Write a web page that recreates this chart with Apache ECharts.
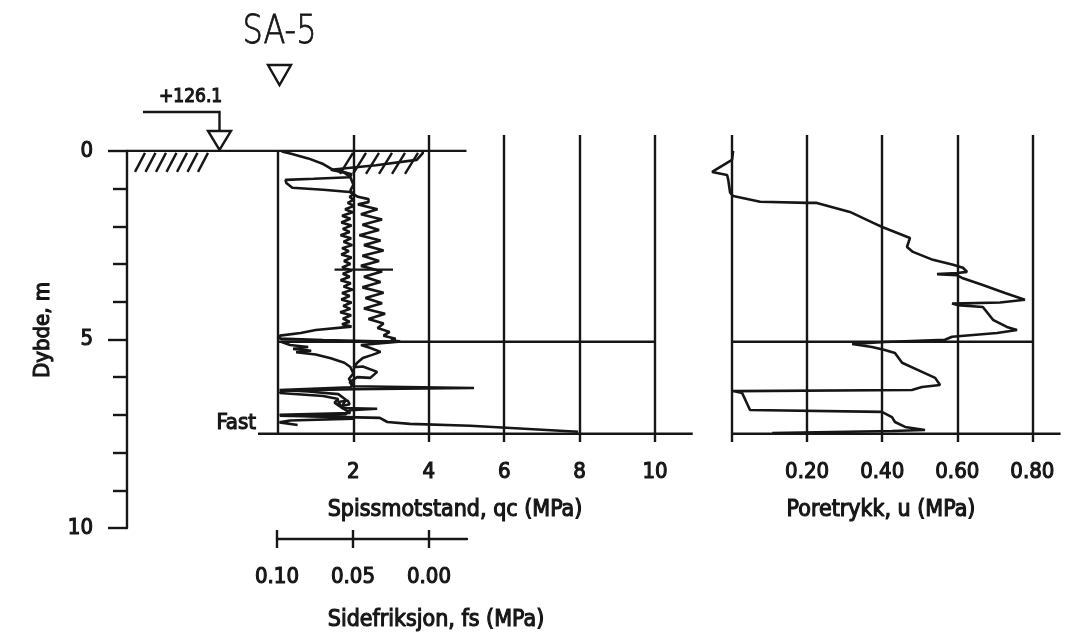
<!DOCTYPE html>
<html><head><meta charset="utf-8">
<script src="https://cdn.jsdelivr.net/npm/echarts@6/dist/echarts.min.js"></script>
<style>html,body{margin:0;padding:0;background:#fff}#c{width:1080px;height:640px}</style>
</head><body><div id="c"></div>
<script>
// ---------- data ----------
const stationName = 'SA-5';
const groundLevel = '+126.1';
const depthLabels = [0, 5, 10];
const qcTicks = [2, 4, 6, 8, 10];
const uTicks = [0.2, 0.4, 0.6, 0.8];
const fsTicks = [0.10, 0.05, 0.00];
const layerDepth = 5.06;   // horizontal line across both panels
const fastDepth = 7.5;     // "Fast" (stop) level
const markDepth = 3.15;    // short mark on qc trace

// cone resistance qc [MPa, depth m]
const qcData = [
 [0.1,0.02],[0.35,0.08],[0.8,0.2],[1.2,0.35],[1.45,0.5],[1.75,0.56],[1.95,0.62],[1.9,0.7],[0.95,0.74],[0.2,0.77],
 [0.22,0.85],[0.38,0.98],[1.2,1.03],[1.9,1.09],[2.0,1.15],[1.9,1.22],[2.0,1.3],
 [1.85,1.38],[2.02,1.46],[1.78,1.55],[1.98,1.63],[1.7,1.72],[1.92,1.8],[1.68,1.9],[1.95,1.98],[1.72,2.07],[1.9,2.15],
 [1.66,2.24],[1.94,2.32],[1.74,2.41],[1.97,2.5],[1.7,2.58],[1.88,2.66],[1.68,2.75],[1.95,2.83],[1.75,2.92],[1.92,3.0],
 [1.7,3.09],[1.96,3.17],[1.72,3.26],[1.9,3.34],[1.66,3.43],[1.93,3.51],[1.74,3.6],[1.98,3.68],[1.7,3.77],[1.9,3.85],
 [1.68,3.94],[1.95,4.02],[1.73,4.11],[1.92,4.19],[1.65,4.28],[1.94,4.36],[1.72,4.45],[1.9,4.53],[1.7,4.6],[1.95,4.66],
 [1.0,4.75],[0.6,4.83],[0.05,4.9],[0.05,4.98],[1.2,5.02],[3.2,5.06],[2.2,5.15],[2.45,5.23],[2.72,5.33],[2.5,5.41],
 [2.25,5.49],[2.1,5.62],[2.0,5.74],[2.25,5.72],[2.63,5.86],[2.45,6.02],[2.1,6.0],[1.9,6.13],[1.98,6.24],[5.2,6.29],
 [2.0,6.32],[0.1,6.36],[0.05,6.42],[1.2,6.5],[1.6,6.58],[1.5,6.68],[1.65,6.78],[1.9,6.72],[1.85,6.62],[1.6,6.66],
 [1.7,6.82],[2.63,6.84],[1.9,6.88],[1.8,6.98],[0.05,7.02],[0.05,7.06],[2.7,7.08],[2.9,7.19],[3.5,7.24],[5.1,7.29],[7.96,7.45]
];
// sleeve friction fs [MPa, depth m]
const fsData = [
 [0.004,0.0],[0.004,0.06],[0.008,0.24],[0.035,0.38],[0.065,0.5],[0.056,0.58],[0.052,0.7],[0.05,0.9],[0.052,1.05],
 [0.05,1.15],[0.047,1.22],[0.040,1.28],[0.04,1.36],[0.047,1.42],
 [0.034,1.55],[0.045,1.68],[0.031,1.82],[0.044,1.96],[0.033,2.1],[0.046,2.24],[0.032,2.38],[0.043,2.5],[0.03,2.64],
 [0.044,2.78],[0.033,2.92],[0.045,3.05],[0.031,3.2],[0.043,3.34],[0.032,3.48],[0.044,3.62],[0.03,3.76],[0.042,3.9],
 [0.031,4.04],[0.043,4.18],[0.029,4.32],[0.04,4.46],[0.03,4.58],[0.034,4.7],[0.026,4.8],[0.03,4.9],[0.022,4.98],
 [0.025,5.03],[0.019,5.05],[0.098,5.06],[0.092,5.15],[0.08,5.2],[0.09,5.25],[0.078,5.3],[0.088,5.34],[0.075,5.4],
 [0.065,5.5],[0.056,5.62],[0.052,5.73],[0.05,5.9],[0.053,6.05],[0.05,6.2],[0.052,6.27],[0.099,6.34],[0.08,6.38],
 [0.06,6.45],[0.055,6.6],[0.058,6.8],[0.052,6.95],[0.099,7.0],[0.06,7.05],[0.05,7.1],[0.092,7.15],[0.099,7.2],[0.087,7.27]
];
// pore pressure u [MPa, depth m]
const uData = [
 [0.003,0.0],[0.0,0.24],[-0.053,0.56],[-0.013,0.64],[-0.01,0.77],[-0.005,1.11],[0.003,1.2],[0.075,1.35],[0.20,1.38],
 [0.226,1.38],[0.314,1.62],[0.376,1.91],[0.40,2.02],[0.474,2.31],[0.466,2.55],[0.482,2.68],[0.535,2.89],[0.589,3.02],
 [0.615,3.10],[0.626,3.21],[0.599,3.24],[0.546,3.27],[0.599,3.3],[0.613,3.37],[0.666,3.55],[0.727,3.77],[0.78,3.95],
 [0.714,4.02],[0.586,4.05],[0.6,4.09],[0.668,4.14],[0.695,4.48],[0.732,4.67],[0.759,4.75],[0.706,4.83],[0.586,4.93],
 [0.567,5.01],[0.407,5.07],[0.32,5.12],[0.373,5.2],[0.407,5.28],[0.434,5.36],[0.453,5.62],[0.506,5.86],[0.541,6.02],
 [0.554,6.21],[0.506,6.26],[0.479,6.34],[0.003,6.37],[0.027,6.42],[0.048,6.87],[0.399,6.92],[0.426,7.06],[0.434,7.19],
 [0.461,7.32],[0.514,7.4],[0.426,7.43],[0.107,7.48]
];

// ---------- chart ----------
const ink = '#161616';
const F = "'DejaVu Sans Condensed','Liberation Sans Narrow',sans-serif";
const LW = 2.4;
const TB = 1.1; // slight emboldening of text strokes
const lbl = {color: ink, fontFamily: F, fontSize: 22, fontWeight: 'normal', textBorderColor: ink, textBorderWidth: TB};
const chart = echarts.init(document.getElementById('c'), null, {renderer: 'canvas'});

const option = {
  animation: false,
  backgroundColor: '#fff',
  grid: [
    {left: 127, top: 151, width: 1, height: 377},
    {left: 278, top: 135, width: 377, height: 307},
    {left: 656.9, top: 135, width: 375.5, height: 307},
    {left: 277, top: 538, width: 190, height: 1}
  ],
  xAxis: [
    {gridIndex: 0, type: 'value', show: false, min: 0, max: 1},
    {gridIndex: 1, type: 'value', min: 0, max: 10, interval: 2, position: 'bottom',
     axisLine: {show: false}, axisTick: {show: false},
     splitLine: {show: true, showMinLine: false, lineStyle: {color: ink, width: LW}},
     axisLabel: Object.assign({margin: 19, customValues: qcTicks, formatter: v => v <= 0 ? '' : String(v)}, lbl)},
    {gridIndex: 1, type: 'value', min: -0.15, max: 0.10, inverse: true, show: false},
    {gridIndex: 2, type: 'value', min: -0.2, max: 0.8, interval: 0.2, position: 'bottom',
     axisLine: {show: false}, axisTick: {show: false},
     splitLine: {show: true, showMinLine: false, lineStyle: {color: ink, width: LW}},
     axisLabel: Object.assign({margin: 19, customValues: uTicks, formatter: v => v <= 0 ? '' : v.toFixed(2)}, lbl)},
    {gridIndex: 3, type: 'value', min: -0.025, max: 0.10, inverse: true, position: 'bottom',
     axisLine: {show: true, lineStyle: {color: ink, width: LW}},
     axisTick: {show: true, customValues: fsTicks, length: 9, lineStyle: {color: ink, width: LW}},
     splitLine: {show: false},
     axisLabel: Object.assign({margin: 27, customValues: fsTicks, formatter: v => v.toFixed(2)}, lbl)},
    {gridIndex: 3, type: 'value', min: -0.025, max: 0.10, inverse: true, position: 'bottom',
     axisLine: {show: false},
     axisTick: {show: true, inside: true, customValues: fsTicks, length: 9, lineStyle: {color: ink, width: LW}},
     splitLine: {show: false}, axisLabel: {show: false}}
  ],
  yAxis: [
    {gridIndex: 0, type: 'value', min: 0, max: 10, interval: 5, inverse: true, position: 'left',
     axisLine: {show: true, lineStyle: {color: ink, width: LW}},
     axisTick: {show: true, length: 19, lineStyle: {color: ink, width: LW}},
     minorTick: {show: true, splitNumber: 5, length: 14, lineStyle: {color: ink, width: LW}},
     splitLine: {show: false},
     axisLabel: Object.assign({margin: 34, padding: [0, 0, 16, 0], customValues: depthLabels}, lbl)},
    {gridIndex: 1, type: 'value', min: -0.42, max: 7.72, inverse: true, show: false},
    {gridIndex: 2, type: 'value', min: -0.42, max: 7.72, inverse: true, show: false},
    {gridIndex: 3, type: 'value', min: 0, max: 1, show: false}
  ],
  series: [
    {name: 'qc', type: 'line', xAxisIndex: 1, yAxisIndex: 1, data: qcData, showSymbol: false, clip: false,
     lineStyle: {color: ink, width: 2.6}, z: 5},
    {name: 'fs', type: 'line', xAxisIndex: 2, yAxisIndex: 1, data: fsData, showSymbol: false, clip: false,
     lineStyle: {color: ink, width: 2.6}, z: 5},
    {name: 'u', type: 'line', xAxisIndex: 3, yAxisIndex: 2, data: uData, showSymbol: false, clip: false,
     lineStyle: {color: ink, width: 2.6}, z: 5}
  ]
};
chart.setOption(option);

// ---------- decorations positioned through the axes ----------
const Pq = (x, y) => chart.convertToPixel({seriesIndex: 0}, [x, y]);
const Pu = (x, y) => chart.convertToPixel({seriesIndex: 2}, [x, y]);
const stroke = {stroke: ink, lineWidth: LW, fill: null};
const seg = (a, b) => ({type: 'line', shape: {x1: a[0], y1: a[1], x2: b[0], y2: b[1]}, style: stroke, z: 10});
const g = [];
const d0 = Pq(0, 0);
g.push(seg([127, d0[1]], Pq(5.0, 0)));                  // ground line
g.push(seg(Pq(0, 0), Pq(0, fastDepth)));                 // qc left frame
g.push(seg(Pq(0, layerDepth), Pq(10, layerDepth)));      // layer line (qc)
g.push(seg([258, Pq(0, fastDepth)[1]], Pq(11.0, fastDepth))); // Fast line (qc)
g.push(seg(Pq(1.5, markDepth), Pq(3.05, markDepth)));    // short mark
g.push(seg(Pu(0, layerDepth), Pu(0.8, layerDepth)));     // layer line (u)
g.push(seg(Pu(0, fastDepth), Pu(0.875, fastDepth)));     // bottom line (u)
// ground hatches
for (let i = 0; i < 7; i++) g.push(seg([135 + i * 10.5, d0[1] + 21], [145 + i * 10.5, d0[1] + 2]));
for (let i = 0; i < 6; i++) g.push(seg([340 + i * 13, d0[1] + 23], [353 + i * 13, d0[1] + 2]));
// level marker
g.push({type: 'polyline', shape: {points: [[143, 112], [219.5, 112], [219.5, 131]]}, style: stroke, z: 10});
g.push({type: 'polygon', shape: {points: [[208, 131], [231, 131], [219.5, d0[1] - 1]]}, style: {stroke: ink, lineWidth: LW, fill: '#fff'}, z: 11});
g.push({type: 'polygon', shape: {points: [[268, 65], [291, 65], [279.5, 85]]}, style: stroke, z: 10});
// texts
const txt = (t, x, y, font, align, extra, sw) => Object.assign({type: 'text', x: x, y: y, z: 12,
  style: {text: t, fill: ink, font: font, textAlign: align, textVerticalAlign: 'middle',
          stroke: ink, lineWidth: sw == null ? TB : sw}}, extra || {});
g.push(txt(stationName, 279.5, 33, '200 39px "DejaVu Sans"', 'center', {scaleX: 0.82}, 0.8));
g.push(txt(groundLevel, 159, 97, '19px ' + F, 'left'));
g.push(txt('Fast', 256, 423, '22px ' + F, 'right'));
g.push(txt('Dybde, m', 43, 330, '22px ' + F, 'center', {rotation: Math.PI / 2}));
g.push(txt('Spissmotstand, qc (MPa)', 455, 510, '23px ' + F, 'center'));
g.push(txt('Sidefriksjon, fs (MPa)', 436, 620, '23px ' + F, 'center'));
g.push(txt('Poretrykk, u (MPa)', 881, 510, '23px ' + F, 'center'));
chart.setOption({graphic: g});
</script></body></html>
